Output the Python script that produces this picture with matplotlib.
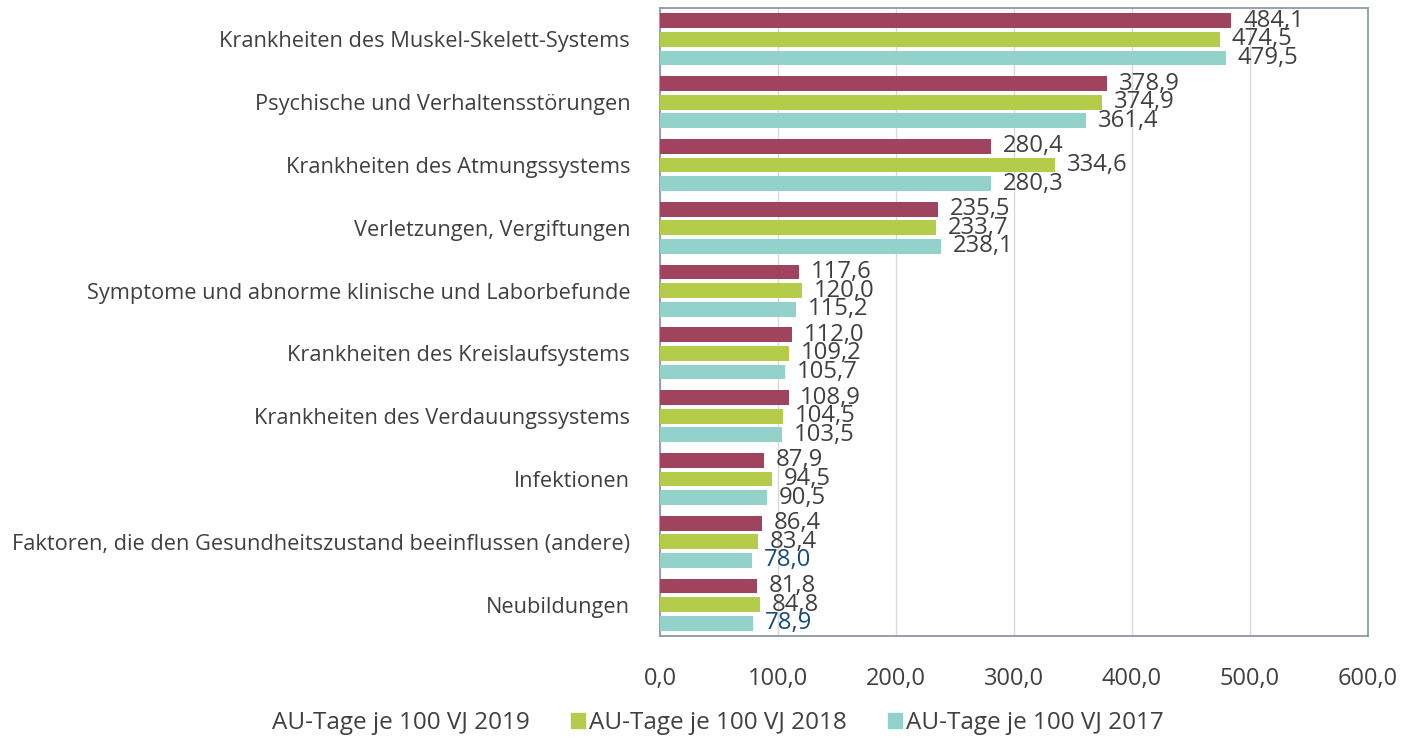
import matplotlib
matplotlib.use("Agg")
import matplotlib.pyplot as plt
import matplotlib.patches as mpatches
import numpy as np

plt.rcParams['font.family'] = ['Open Sans', 'DejaVu Sans']

categories = ["Krankheiten des Muskel-Skelett-Systems",
              "Psychische und Verhaltensstörungen",
              "Krankheiten des Atmungssystems",
              "Verletzungen, Vergiftungen",
              "Symptome und abnorme klinische und Laborbefunde",
              "Krankheiten des Kreislaufsystems",
              "Krankheiten des Verdauungssystems",
              "Infektionen",
              "Faktoren, die den Gesundheitszustand beeinflussen (andere)",
              "Neubildungen"]
v2019 = [484.1, 378.9, 280.4, 235.5, 117.6, 112.0, 108.9, 87.9, 86.4, 81.8]
v2018 = [474.5, 374.9, 334.6, 233.7, 120.0, 109.2, 104.5, 94.5, 83.4, 84.8]
v2017 = [479.5, 361.4, 280.3, 238.1, 115.2, 105.7, 103.5, 90.5, 78.0, 78.9]
series_names = ["AU-Tage je 100 VJ 2019", "AU-Tage je 100 VJ 2018", "AU-Tage je 100 VJ 2017"]
colors = ["#A0435F", "#B5CC4B", "#93D2CB"]
blue_labels = {(2, 8), (2, 9)}  # series idx, category idx with dark blue label

fig = plt.figure(figsize=(14.18, 7.4), dpi=100)
ax = fig.add_axes([660/1418, 1-636/740, 708/1418, 628/740])

n = len(categories)
y = np.arange(n)
bh = 0.235
offs = [-0.295, 0, 0.295]
txt = "#404040"
for s, vals in enumerate([v2019, v2018, v2017]):
    ax.barh(y + offs[s], vals, height=bh, color=colors[s], zorder=3)
    for i, v in enumerate(vals):
        c = "#174A7C" if (s, i) in blue_labels else txt
        ax.text(v + 10, i + offs[s], f"{v:.1f}".replace(".", ","), va="center", ha="left",
                fontsize=17.2, color=c, zorder=4)

ax.set_ylim(n - 0.5, -0.5)
ax.set_xlim(0, 600)
ax.set_xticks(np.arange(0, 601, 100))
ax.set_xticklabels([f"{t:.1f}".replace(".", ",") for t in np.arange(0, 601, 100)])
ax.set_yticks(y)
ax.set_yticklabels(categories, fontsize=15.7)
ax.tick_params(axis='both', length=0, labelcolor=txt)
ax.tick_params(axis='x', pad=22, labelsize=17)
ax.tick_params(axis='y', pad=21.5)
ax.xaxis.grid(True, color="#D9D9D9", linewidth=1, zorder=0)
for sp in ax.spines.values():
    sp.set_color("#8C98AA")
    sp.set_linewidth(1.3)

handles = [mpatches.Patch(color="none"),
           mpatches.Patch(color=colors[1]),
           mpatches.Patch(color=colors[2])]
fig.legend(handles, series_names, loc="center", bbox_to_anchor=(0.5, 1-723/740), ncol=3,
           frameon=False, fontsize=17.5, handlelength=0.58, handleheight=0.58,
           handletextpad=0.15, columnspacing=1.7, labelcolor=txt)

fig.savefig("out.png", dpi=100)
